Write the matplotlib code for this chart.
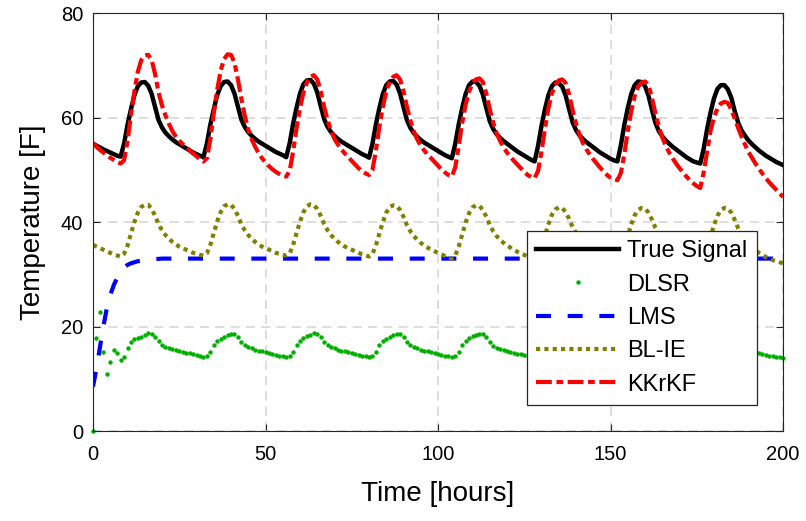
import matplotlib
matplotlib.use('Agg')
import matplotlib.pyplot as plt

# hourly samples
hours = list(range(201))

true_signal = [
    55.0, 54.6, 54.3, 53.9, 53.6, 53.3, 53.0, 52.7,
    52.5, 55.0, 58.6, 61.6, 64.3, 66.0, 66.7, 66.8, 66.1, 64.5, 62.0, 59.5,
    58.1, 57.1, 56.4, 55.8, 55.3, 54.9, 54.5, 54.1, 53.7, 53.3, 53.0, 52.7,
    52.4, 55.0, 58.6, 61.6, 64.3, 66.0, 66.8, 66.9, 66.2, 64.6, 62.1, 59.6,
    58.2, 57.2, 56.5, 55.9, 55.4, 55.0, 54.6, 54.2, 53.8, 53.4, 53.1, 52.8,
    52.4, 55.1, 58.8, 61.9, 64.6, 66.4, 67.1, 67.2, 66.5, 64.8, 62.2, 59.7,
    58.2, 57.2, 56.5, 55.9, 55.4, 55.0, 54.6, 54.2, 53.8, 53.4, 53.0, 52.7,
    52.3, 55.0, 58.7, 61.8, 64.5, 66.2, 66.9, 67.0, 66.3, 64.6, 62.0, 59.5,
    58.0, 57.0, 56.3, 55.7, 55.2, 54.8, 54.4, 54.0, 53.6, 53.2, 52.8, 52.5,
    52.2, 55.0, 58.7, 61.8, 64.5, 66.2, 66.9, 66.8, 66.1, 64.4, 61.8, 59.3,
    57.8, 56.8, 56.1, 55.5, 55.0, 54.5, 54.0, 53.5, 53.1, 52.7, 52.3, 51.9,
    51.6, 54.6, 58.4, 61.6, 64.3, 66.0, 66.7, 66.6, 65.9, 64.2, 61.6, 59.1,
    57.6, 56.6, 55.9, 55.3, 54.8, 54.3, 53.8, 53.3, 52.9, 52.5, 52.1, 51.8,
    51.6, 54.7, 58.6, 61.8, 64.5, 66.2, 66.9, 66.8, 66.0, 64.2, 61.5, 59.0,
    57.4, 56.4, 55.6, 55.0, 54.4, 53.9, 53.4, 52.9, 52.4, 52.0, 51.6, 51.4,
    51.2, 54.0, 57.8, 61.0, 63.7, 65.5, 66.2, 66.2, 65.4, 63.8, 61.2, 59.0,
    57.5, 56.5, 55.6, 54.9, 54.3, 53.7, 53.2, 52.7, 52.3, 51.9, 51.5, 51.2,
    50.9,
]

dlsr = [
    0.0, 17.8, 22.8, 15.2, 11.0, 13.3, 15.6, 14.9,
    13.6, 14.1, 15.8, 17.1, 17.6, 17.8, 18.0, 18.3, 18.7, 18.5, 18.0, 17.2,
    16.5, 16.0, 15.8, 15.7, 15.6, 15.4, 15.2, 15.0, 14.9, 14.7, 14.5, 14.4,
    14.2, 14.3, 15.2, 16.4, 17.3, 17.7, 18.0, 18.3, 18.6, 18.6, 18.0, 17.1,
    16.4, 16.0, 15.8, 15.6, 15.4, 15.3, 15.1, 14.9, 14.8, 14.6, 14.4, 14.3,
    14.2, 14.3, 15.2, 16.5, 17.3, 17.8, 18.1, 18.4, 18.7, 18.6, 18.0, 17.1,
    16.4, 16.0, 15.8, 15.6, 15.4, 15.3, 15.1, 14.9, 14.8, 14.6, 14.4, 14.3,
    14.2, 14.3, 15.2, 16.4, 17.3, 17.7, 18.0, 18.3, 18.6, 18.6, 18.0, 17.1,
    16.4, 16.0, 15.8, 15.6, 15.4, 15.3, 15.1, 14.9, 14.8, 14.6, 14.4, 14.3,
    14.2, 14.3, 15.2, 16.4, 17.3, 17.8, 18.1, 18.4, 18.6, 18.5, 17.9, 17.0,
    16.3, 15.9, 15.7, 15.5, 15.3, 15.2, 15.0, 14.8, 14.7, 14.5, 14.3, 14.2,
    14.1, 14.2, 15.1, 16.3, 17.2, 17.6, 17.9, 18.2, 18.5, 18.4, 17.8, 16.9,
    16.2, 15.8, 15.6, 15.4, 15.2, 15.1, 14.9, 14.7, 14.6, 14.4, 14.2, 14.1,
    14.1, 14.2, 15.1, 16.3, 17.2, 17.6, 17.9, 18.2, 18.5, 18.4, 17.8, 16.9,
    16.2, 15.8, 15.6, 15.4, 15.2, 15.1, 14.9, 14.7, 14.6, 14.4, 14.2, 14.1,
    14.0, 14.1, 15.0, 16.2, 17.1, 17.5, 17.8, 18.1, 18.4, 18.3, 17.7, 16.8,
    16.1, 15.7, 15.5, 15.3, 15.1, 14.9, 14.7, 14.6, 14.4, 14.3, 14.2, 14.1,
    14.0,
]

lms_hours = [0, 1, 2, 3, 4, 5, 6, 7, 8, 9, 10, 11, 12, 13, 14, 15, 16, 18, 20, 200]
lms = [8.5, 12.0, 16.0, 20.0, 23.5, 26.0, 27.9, 29.3, 30.6, 31.3,
       31.8, 32.1, 32.3, 32.5, 32.6, 32.7, 32.8, 32.9, 33.0, 33.0]

bl_ie = [
    35.6, 35.3, 35.0, 34.7, 34.4, 34.1, 33.8, 33.6,
    33.4, 33.9, 35.5, 37.8, 40.0, 41.8, 42.9, 43.3, 43.3, 42.5, 41.2, 39.6,
    38.4, 37.5, 36.8, 36.2, 35.7, 35.3, 35.0, 34.7, 34.4, 34.1, 33.9, 33.7,
    33.6, 34.0, 35.6, 37.9, 40.1, 41.9, 43.0, 43.4, 43.3, 42.5, 41.2, 39.6,
    38.4, 37.5, 36.8, 36.2, 35.7, 35.3, 35.0, 34.7, 34.4, 34.1, 33.9, 33.7,
    33.6, 34.0, 35.6, 37.9, 40.1, 41.9, 43.0, 43.4, 43.3, 42.5, 41.2, 39.6,
    38.4, 37.5, 36.8, 36.2, 35.7, 35.3, 35.0, 34.7, 34.4, 34.1, 33.8, 33.6,
    33.4, 33.9, 35.5, 37.8, 40.0, 41.8, 42.9, 43.2, 43.1, 42.3, 41.0, 39.4,
    38.2, 37.3, 36.6, 36.0, 35.5, 35.1, 34.7, 34.4, 34.1, 33.8, 33.5, 33.2,
    33.0, 33.6, 35.3, 37.6, 39.9, 41.7, 42.8, 43.2, 43.1, 42.3, 41.0, 39.4,
    38.2, 37.3, 36.6, 36.0, 35.5, 35.1, 34.7, 34.3, 34.0, 33.7, 33.4, 33.2,
    33.0, 33.5, 35.1, 37.4, 39.6, 41.4, 42.4, 42.8, 42.7, 41.9, 40.6, 39.0,
    37.9, 37.0, 36.3, 35.7, 35.2, 34.8, 34.4, 34.0, 33.7, 33.4, 33.2, 33.0,
    32.9, 33.4, 35.0, 37.3, 39.5, 41.3, 42.3, 42.7, 42.6, 41.8, 40.5, 38.9,
    37.8, 36.9, 36.2, 35.6, 35.1, 34.7, 34.3, 33.9, 33.6, 33.3, 33.1, 32.9,
    32.8, 33.3, 34.9, 37.2, 39.4, 41.2, 42.3, 42.7, 42.6, 41.8, 40.4, 38.8,
    37.6, 36.7, 35.9, 35.2, 34.6, 34.1, 33.7, 33.3, 33.0, 32.7, 32.5, 32.3,
    32.1,
]

kkrkf = [
    55.0, 54.4, 53.8, 53.3, 52.8, 52.3, 51.9, 51.5,
    51.2, 51.8, 55.5, 60.5, 65.0, 68.8, 71.0, 71.9, 72.0, 71.0, 68.3, 64.8,
    62.3, 60.4, 58.8, 57.4, 56.4, 55.6, 54.9, 54.3, 53.7, 53.1, 52.6, 52.0,
    51.6, 52.2, 55.8, 60.8, 65.3, 69.0, 71.2, 72.1, 72.0, 70.5, 67.3, 63.6,
    60.3, 57.7, 55.8, 54.4, 53.2, 52.2, 51.4, 50.7, 50.1, 49.6, 49.2, 48.9,
    48.7, 49.8, 53.5, 58.0, 61.8, 64.8, 66.7, 67.8, 68.1, 67.3, 65.0, 62.0,
    59.5, 57.4, 55.9, 54.8, 53.9, 53.1, 52.4, 51.7, 51.0, 50.3, 49.7, 49.3,
    49.0, 50.0, 53.7, 58.2, 62.0, 65.0, 66.8, 67.8, 68.1, 67.3, 65.0, 62.0,
    59.4, 57.3, 55.8, 54.6, 53.7, 52.9, 52.2, 51.5, 50.8, 50.1, 49.5, 49.0,
    48.7, 50.5, 54.5, 59.0, 62.5, 65.0, 66.5, 67.3, 67.5, 66.8, 64.6, 61.6,
    59.0, 57.0, 55.5, 54.3, 53.3, 52.5, 51.7, 51.0, 50.3, 49.6, 49.0, 48.6,
    48.4, 49.8, 53.5, 58.0, 61.8, 64.6, 66.3, 67.1, 67.3, 66.6, 64.4, 61.4,
    58.8, 56.7, 55.1, 53.9, 52.9, 52.0, 51.2, 50.4, 49.7, 49.0, 48.5, 48.2,
    48.0, 49.4, 53.0, 57.4, 61.2, 64.1, 65.9, 66.7, 66.9, 66.2, 63.8, 60.8,
    58.3, 56.2, 54.6, 53.3, 52.2, 51.2, 50.3, 49.5, 48.7, 48.0, 47.4, 46.9,
    46.5, 49.5, 53.5, 57.5, 60.0, 61.8, 62.7, 63.0, 62.8, 61.5, 59.8, 58.0,
    56.3, 54.8, 53.4, 52.3, 51.2, 50.2, 49.3, 48.4, 47.6, 46.9, 46.2, 45.5,
    44.8,
]

plt.rcParams['font.family'] = ['Liberation Sans', 'DejaVu Sans']
edge = '#262626'

fig = plt.figure(figsize=(8.06, 5.21), dpi=100)
ax = fig.add_axes([0.1154, 0.1727, 0.8561, 0.8023])

ax.plot(hours, true_signal, color='black', lw=3.2, label='True Signal')
ax.plot(hours, dlsr, ls='none', marker='o', ms=3.2, mew=0, color='#00b000',
        clip_on=False, label='DLSR')
ax.plot(lms_hours, lms, color='#0000ff', lw=3, ls=(0, (3.6, 4.0)), label='LMS')
ax.plot(hours, bl_ie, color='#808000', lw=3, ls=(0, (1.0, 1.0)), label='BL-IE')
ax.plot(hours, kkrkf, color='#ff0000', lw=3, ls=(0, (3.8, 1.1, 1.6, 1.1)), label='KKrKF')

ax.set_xlim(0, 200)
ax.set_ylim(0, 80)
ax.set_xticks([0, 50, 100, 150, 200])
ax.set_yticks([0, 20, 40, 60, 80])
ax.grid(True, color='#d4d4d4', ls=(0, (6, 4)), lw=1.1)
ax.set_axisbelow(True)
for s in ax.spines.values():
    s.set_color(edge)
    s.set_linewidth(0.8)
ax.tick_params(direction='in', top=True, right=True, length=5, width=0.8,
               labelsize=14.5, colors=edge, labelcolor='black')
ax.tick_params(axis='x', pad=10)
ax.tick_params(axis='y', pad=7)

ax.set_xlabel('Time [hours]', fontsize=20, labelpad=12)
ax.set_ylabel('Temperature [F]', fontsize=20, labelpad=11)

leg = ax.legend(loc='lower right', bbox_to_anchor=(0.962, 0.062), borderaxespad=0,
                fontsize=17, handlelength=3.5, handletextpad=0.35, labelspacing=0.48,
                numpoints=1, fancybox=False, framealpha=1, edgecolor=edge)
leg.get_frame().set_linewidth(0.9)

fig.savefig('out.png', dpi=100)
